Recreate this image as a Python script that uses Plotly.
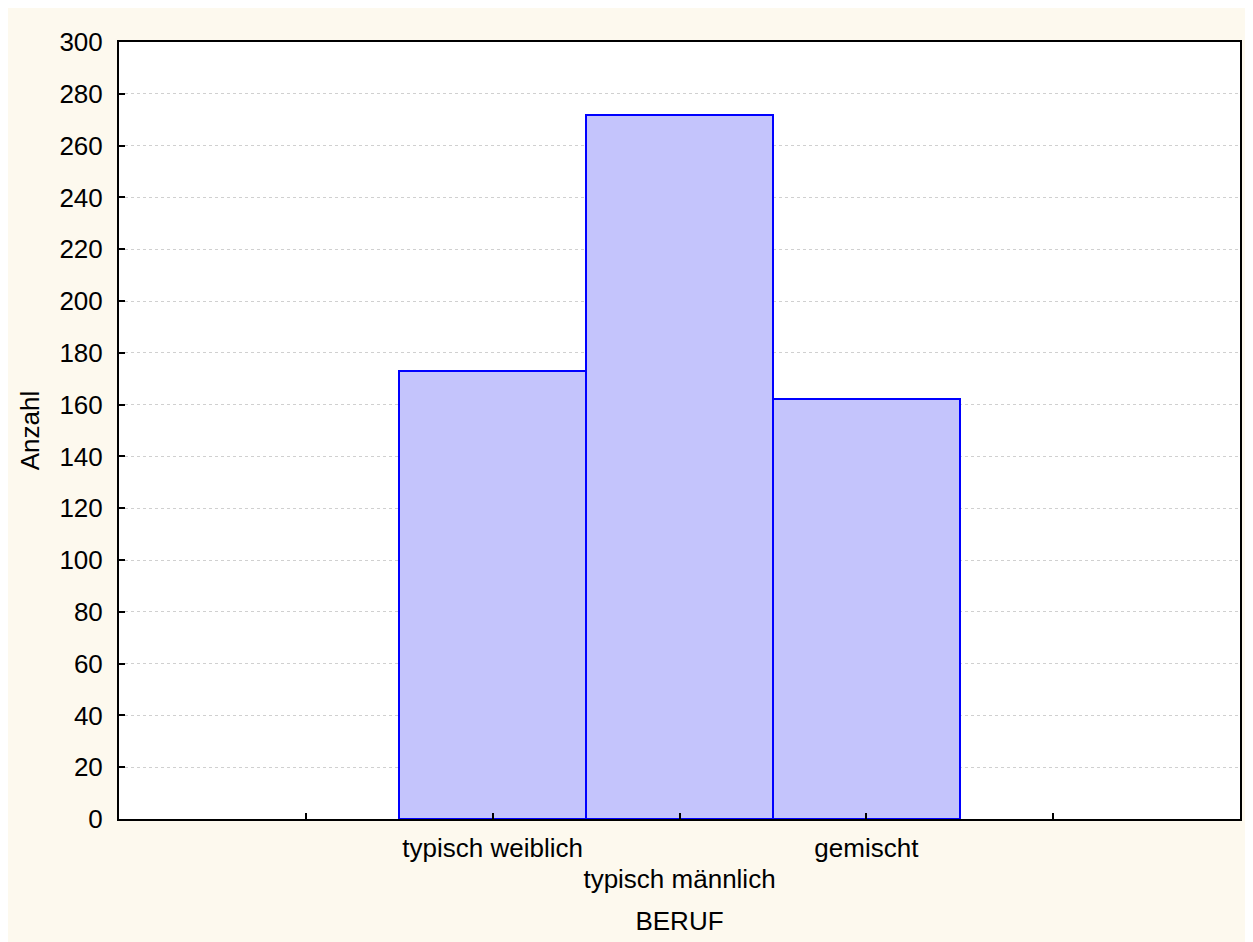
import plotly.graph_objects as go

categories = ["typisch weiblich", "typisch männlich", "gemischt"]
counts = [173, 272, 162]
positions = [2, 3, 4]
y_ticks = list(range(0, 301, 20))
x_ticks = [1, 2, 3, 4, 5]

# staggered category labels: upper row on main axis, lower row on overlay axis
upper_text = ["", categories[0], "", categories[2], ""]
lower_vals = [positions[1]]
lower_text = [categories[1]]

W, H = 1242, 940
ml, mr, mt, mb = 111, 8, 34, 129
FONT = "Liberation Sans, Arial, sans-serif"
FS = 26

fig = go.Figure()
fig.add_trace(go.Bar(
    x=positions, y=counts, width=1,
    marker=dict(color="rgb(196,196,252)", line=dict(color="#0000FF", width=2)),
    hoverinfo="skip",
))
# invisible trace bound to the overlay axis so it renders
fig.add_trace(go.Scatter(x=[positions[1]], y=[0], xaxis="x2", mode="markers",
                         marker=dict(opacity=0), hoverinfo="skip", showlegend=False))

fig.update_layout(
    width=W, height=H,
    margin=dict(l=ml, r=mr, t=mt, b=mb),
    paper_bgcolor="#FDF9EE",
    plot_bgcolor="white",
    showlegend=False,
    bargap=0,
    font=dict(family=FONT, size=FS, color="black"),
    xaxis=dict(
        range=[0, 6], tickvals=x_ticks, ticktext=upper_text,
        ticks="inside", ticklen=6, tickwidth=2, tickcolor="black",
        showline=True, linecolor="black", linewidth=2, mirror=True,
        showgrid=False, zeroline=False, ticklabelstandoff=5,
        title=dict(text="BERUF", standoff=50, font=dict(size=FS)),
        tickfont=dict(size=FS),
    ),
    xaxis2=dict(
        range=[0, 6], overlaying="x", side="bottom", anchor="y",
        tickvals=lower_vals, ticktext=lower_text, ticks="",
        showline=False, showgrid=False, zeroline=False,
        ticklabelstandoff=42, tickfont=dict(size=FS),
    ),
    yaxis=dict(
        range=[0, 300], tickvals=y_ticks,
        ticks="inside", ticklen=6, tickwidth=2, tickcolor="black",
        showline=True, linecolor="black", linewidth=2, mirror=True,
        showgrid=True, gridcolor="#D0D0D0", griddash="dot", gridwidth=1,
        zeroline=False, ticklabelstandoff=9,
        title=dict(text="Anzahl", standoff=12, font=dict(size=FS)),
        tickfont=dict(size=FS),
    ),
)

fig.write_html("out.html")
